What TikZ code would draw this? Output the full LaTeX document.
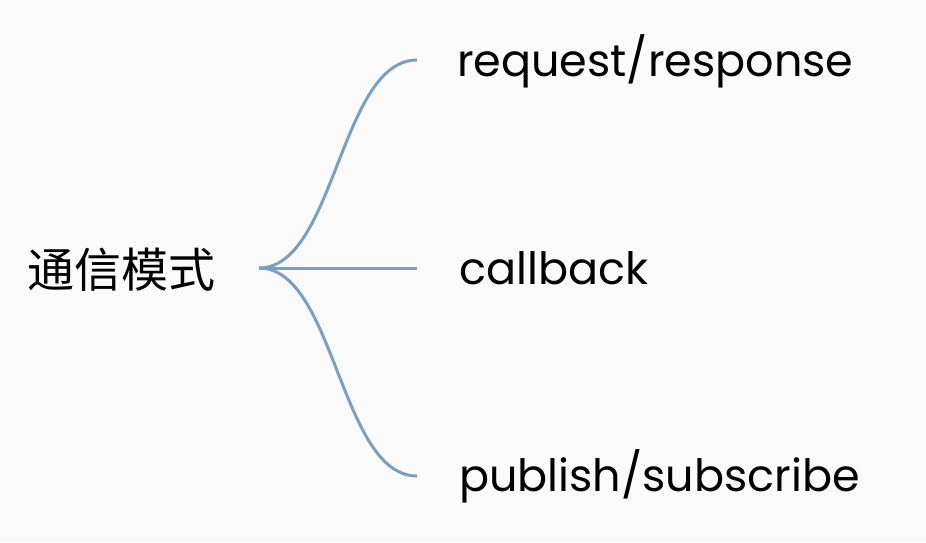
\documentclass[tikz,border=0pt]{standalone}
\usepackage{fontspec}
\setmainfont{Poppins}
\newfontfamily\cjk{Noto Sans CJK SC}
\definecolor{bgc}{HTML}{FAFAFA}
\definecolor{linec}{HTML}{7BA0BF}
\begin{document}
\begin{tikzpicture}[x=1pt,y=-1pt,
  leaf/.style={anchor=base west,inner sep=0pt,font=\fontsize{44.5}{52}\selectfont},
  rootlbl/.style={anchor=west,inner sep=0pt,font=\cjk\fontsize{47}{56}\selectfont},
  branch/.style={draw=linec,line width=3pt}]
\fill[bgc] (0,0) rectangle (926,542);
\useasboundingbox (0,0) rectangle (926,542);
\node[rootlbl] (r) at (27,270) {通信模式};
\coordinate (o) at (259,268);
\coordinate (e1) at (417,60);
\coordinate (e2) at (417,268);
\coordinate (e3) at (417,476);
\node[leaf] (t1) at (457,76) {request/response};
\node[leaf] (t2) at (459,284) {callback};
\node[leaf] (t3) at (459,491) {publish/subscribe};
\draw[branch] (o) .. controls (335,268) and (340,60) .. (e1);
\draw[branch] (o) -- (e2);
\draw[branch] (o) .. controls (335,268) and (340,476) .. (e3);
\end{tikzpicture}
\end{document}
